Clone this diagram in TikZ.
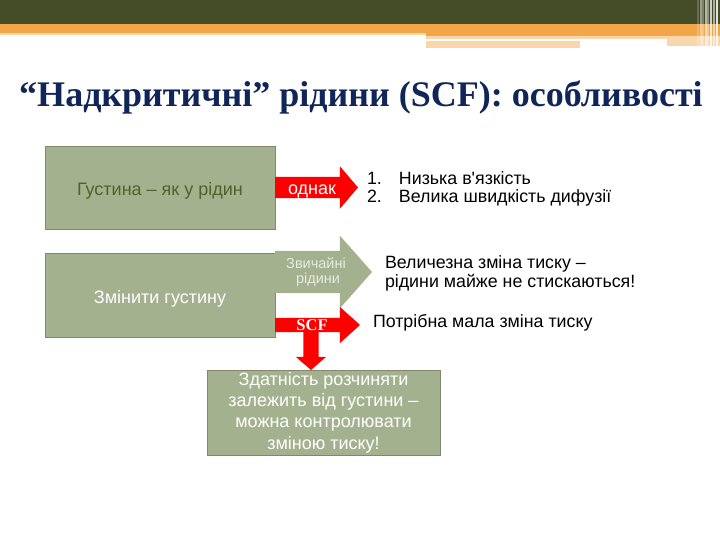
\documentclass[tikz,border=0pt]{standalone}
\usepackage{fontspec}
\setmainfont{Liberation Sans}[Ligatures=TeXOff]
\newfontfamily\serifbold{Liberation Serif}[Ligatures=TeXOff]
\usetikzlibrary{shapes.arrows}
\definecolor{bandolive}{RGB}{69,76,40}
\definecolor{bandorange}{RGB}{243,166,72}
\definecolor{paleorange}{RGB}{250,214,172}
\definecolor{sage}{RGB}{164,177,143}
\definecolor{sageline}{RGB}{128,136,112}
\definecolor{titleblue}{RGB}{16,37,88}
\definecolor{darkgreen}{RGB}{79,98,40}
\definecolor{palegreen}{RGB}{232,236,224}

\begin{document}
\begin{tikzpicture}[x=1pt,y=-1pt,
  every node/.style = {inner sep=0pt, outer sep=0pt},
  box/.style = {rectangle, draw=sageline, fill=sage, line width=0.8pt,
    minimum width=230pt, minimum height=83pt, align=center,
    font=\fontsize{18}{21.3}\selectfont},
  blockarrow/.style = {single arrow, fill=red, anchor=tail},
  note/.style = {anchor=base west, font=\fontsize{17.8}{20}\selectfont}]
  \useasboundingbox (0,0) rectangle (720,540);
  \fill[bandolive] (0,0) rectangle (720,24);
  \fill[bandorange] (0,24) rectangle (426,33);
  \fill[paleorange] (0,33) rectangle (426,35);
  \fill[bandorange] (426,24) rectangle (720,36);
  \fill[paleorange] (426,36) rectangle (720,39);
  \fill[paleorange] (426,41.5) rectangle (580,48);
  \fill[paleorange] (667,39) rectangle (720,46);
  \foreach \x/\t in {697/20,700/45,702/30,705/60,707/40,710/75,713/55,716/85}
    \fill[white, opacity=0.\t] (\x,0) rectangle +(2,46);

  \node[font=\serifbold\bfseries\fontsize{36}{40}\selectfont, text=titleblue,
    anchor=base] (title) at (361,107) {“Надкритичні” рідини (SCF): особливості};

  \node[box, text=darkgreen, text height=17pt, text depth=0pt] (dens)
    at (160,187.5) {Густина – як у рідин};
  \node[box, text=white, minimum height=84pt, text height=17pt, text depth=0pt]
    (change) at (160,295) {Змінити густину};
  \node[box, text=white, minimum width=233pt, minimum height=85pt] (solv)
    at (323.5,412.5)
    {Здатність розчиняти\\залежить від густини –\\можна контролювати\\зміною тиску!};

  \node[blockarrow, minimum height=83pt, inner ysep=10.5pt,
    single arrow head extend=10.5pt, single arrow tip angle=99] (but) at (dens.east) {};
  \node[blockarrow, fill=sage, minimum height=97pt, inner ysep=21pt,
    single arrow head extend=15pt, single arrow tip angle=97] (usual)
    at ([yshift=23pt]change.east) {};
  \node[blockarrow, minimum height=85pt, inner ysep=7pt,
    single arrow head extend=11pt, single arrow tip angle=84] (scf)
    at ([yshift=-30pt]change.east) {};
  \node[blockarrow, minimum height=38pt, inner xsep=7.5pt, inner ysep=0pt,
    single arrow head extend=7.5pt, single arrow tip angle=98,
    shape border rotate=270] (down) at (311,332) {};

  \node[text=white, font=\fontsize{18}{18}\selectfont, anchor=base] (butlabel)
    at (312,195) {однак};
  \node[text=palegreen, font=\fontsize{14.5}{14.5}\selectfont, anchor=base] (usual1)
    at (316,268) {Звичайні};
  \node[text=palegreen, font=\fontsize{14.5}{14.5}\selectfont, anchor=base] (usual2)
    at (318,283) {рідини};
  \node[text=white, font=\serifbold\bfseries\fontsize{16.5}{17}\selectfont,
    anchor=base] (scflabel) at (312,330) {SCF};

  \node[note] (visc) at (367,184.5) {\makebox[32pt][l]{1.}Низька в'язкість};
  \node[note] (diff) at (367,202.5) {\makebox[32pt][l]{2.}Велика швидкість дифузії};
  \node[note] (press1) at (385,268) {Величезна зміна тиску –};
  \node[note] (press2) at (385,287) {рідини майже не стискаються!};
  \node[note] (small) at (373,327) {Потрібна мала зміна тиску};
\end{tikzpicture}
\end{document}
